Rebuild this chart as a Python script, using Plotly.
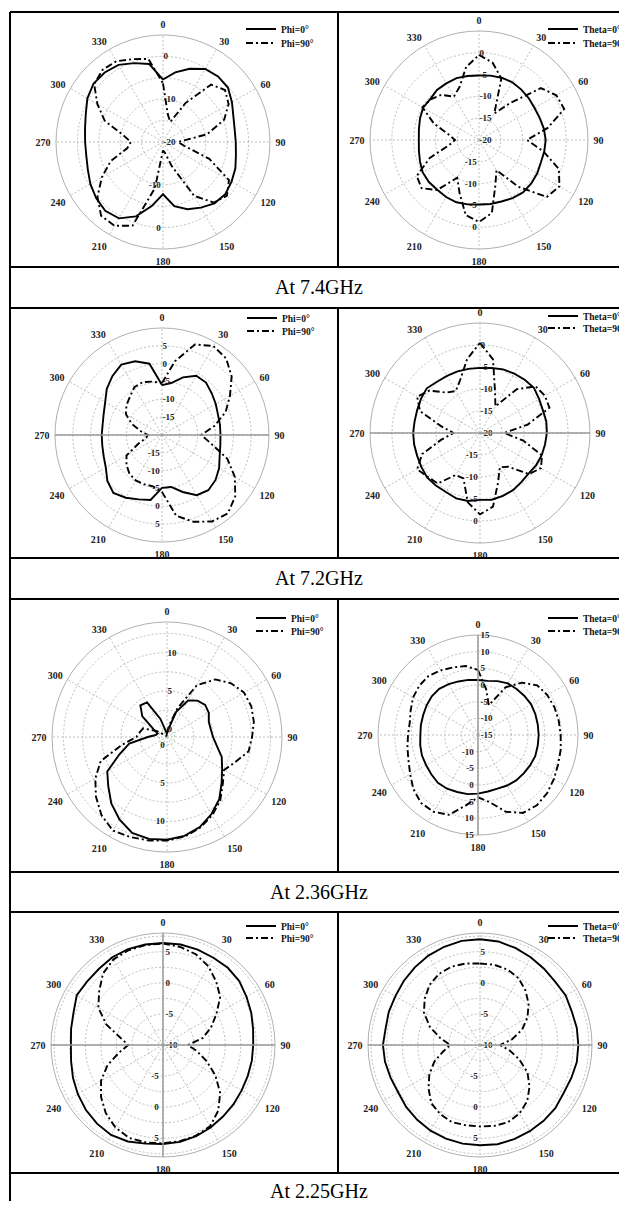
import plotly.graph_objects as go

# page is 627 x 1209; the html body keeps an 8 px margin, so the figure is 16 px smaller
PAGE_W, PAGE_H = 627, 1209
OFF = 8
W, H = PAGE_W - OFF, PAGE_H - 2 * OFF

# ---------------- data ----------------
THETA_DEG = list(range(0, 360, 10))
ANG_TICKS = list(range(0, 360, 30))
ANG_LABELS = [str(a) for a in ANG_TICKS]

# 7.4 GHz
p74_phi0 = [-5.4, -3.5, -1.8, -0.3, 0.0, -0.2, -1.4, -2.5, -3.0, -3.0, -2.7, -2.0,
            -1.5, -1.0, -1.3, -2.3, -3.3, -4.8, -7.8, -4.8, -1.5, 0.6, 1.0, 0.4,
            -0.4, -1.3, -1.8, -1.8, -1.5, -0.8, 0.4, 1.2, 1.2, 0.8, -0.4, -1.5]
p74_phi90 = [-6.3, -13.5, -15.0, -9.5, -2.5, -1.1, -2.3, -4.8, -9.5, -16.5, -15.0, -8.5,
             -2.2, -0.5, -1.5, -5.5, -14.0, -17.5, -18.0, -9.0, 0.8, 2.6, 2.5, 0.0,
             -3.5, -7.0, -11.5, -12.5, -10.5, -5.5, -2.3, 1.0, 2.0, 1.8, 0.6, -0.3]
p74_theta0 = [-5.2, -5.0, -4.8, -4.7, -4.9, -5.1, -5.3, -5.2, -4.9, -4.7, -4.8, -4.9,
              -4.6, -4.4, -4.3, -4.6, -5.0, -5.1, -5.2, -5.0, -4.8, -4.9, -5.1, -5.0,
              -5.1, -5.6, -6.0, -6.2, -6.0, -5.6, -5.2, -5.4, -5.0, -5.0, -4.9, -5.1]
p74_theta90 = [-0.5, -2.0, -5.0, -13.0, -9.0, -1.5, 0.5, 0.8, -4.0, -9.0, -5.0, -0.5,
               1.3, 0.3, -6.0, -12.0, -9.0, -3.0, -1.2, -2.5, -7.0, -10.0, -5.0, -2.8,
               -3.5, -8.0, -13.0, -14.5, -13.0, -9.0, -5.0, -5.5, -6.5, -8.5, -7.0, -3.0]

# 7.2 GHz
p72_phi0 = [-6.0, -5.2, -2.8, -0.8, -0.8, -1.8, -2.6, -3.3, -3.5, -3.6, -3.4, -2.8,
            -1.5, -0.4, 0.2, -0.5, -3.0, -5.2, -5.2, -1.5, -0.8, 0.3, 1.2, 0.0,
            -1.8, -2.6, -3.0, -3.1, -3.1, -2.6, -1.6, 0.2, 1.6, 2.8, 2.0, 0.3]
p72_phi90 = [-5.4, 1.0, 7.0, 8.8, 8.0, 5.5, 2.0, -1.0, -5.0, -9.0, -6.0, -0.5,
             3.6, 6.8, 8.7, 8.0, 5.9, 3.0, -4.0, -5.4, -5.3, -5.3, -5.8, -7.0,
             -8.5, -13.0, -15.5, -16.0, -14.0, -11.0, -8.3, -7.0, -6.0, -4.5, -4.2, -4.8]
p72_theta0 = [-5.2, -5.0, -4.6, -4.4, -4.2, -4.0, -4.5, -4.8, -4.7, -4.8, -5.0, -5.1,
              -5.3, -5.6, -5.4, -5.0, -4.8, -4.6, -4.8, -4.3, -4.2, -4.5, -4.4, -4.3,
              -4.6, -4.8, -4.8, -4.8, -4.9, -4.8, -4.5, -4.2, -4.8, -5.0, -5.1, -5.2]
p72_theta90 = [0.5, -3.0, -10.0, -13.0, -7.0, -3.5, -3.0, -3.2, -9.0, -14.5, -10.0, -5.0,
               -4.0, -5.5, -10.0, -11.0, -8.0, -3.0, -1.5, -4.0, -9.0, -9.0, -5.0, -4.5,
               -3.5, -6.0, -11.0, -14.0, -11.0, -5.5, -3.5, -5.0, -8.0, -9.0, -7.0, -3.0]

# 2.36 GHz
p236_phi0 = [-0.5, 0.0, 2.5, 4.5, 5.2, 5.5, 5.3, 4.8, 4.8, 5.0, 5.6, 6.6,
             7.3, 8.3, 9.6, 10.6, 11.5, 12.1, 12.4, 12.5, 12.3, 11.4, 10.3, 9.0,
             8.0, 5.6, 4.0, 1.5, 0.5, 0.3, 1.0, 3.2, 4.4, 4.2, 1.5, -0.3]
p236_phi90 = [-0.5, 0.5, 3.0, 6.8, 8.8, 9.9, 10.6, 10.7, 10.5, 10.1, 9.8, 8.5,
              7.6, 8.5, 9.8, 10.8, 11.6, 12.2, 12.5, 12.7, 12.9, 13.1, 12.3, 11.1,
              9.8, 8.2, 5.0, 3.0, 2.6, 2.3, 0.5, -0.5, -0.8, -0.8, -0.8, -0.7]
p236_theta0 = [1.5, 1.5, 2.2, 2.9, 3.0, 3.2, 3.4, 3.3, 3.2, 3.2, 3.2, 3.3,
               3.1, 2.9, 2.8, 2.5, 2.1, 2.2, 2.6, 3.0, 3.2, 3.6, 3.7, 3.3,
               3.0, 2.9, 2.6, 2.3, 2.4, 2.5, 2.8, 3.1, 3.1, 2.6, 2.1, 1.8]
p236_theta90 = [4.5, -1.0, -5.5, 1.5, 5.5, 8.2, 9.0, 9.4, 9.6, 9.8, 10.2, 10.6,
                11.3, 12.1, 12.5, 12.0, 9.5, 5.5, 3.7, 6.5, 10.5, 11.6, 11.6, 10.3,
                8.5, 7.2, 6.5, 6.0, 5.8, 6.5, 7.5, 8.0, 8.1, 7.4, 6.6, 6.0]

# 2.25 GHz
p225_phi0 = [6.4, 6.4, 6.3, 6.2, 6.2, 6.0, 5.5, 5.1, 4.7, 4.5, 4.5, 4.5,
             4.6, 4.8, 5.0, 5.3, 5.6, 5.8, 5.9, 6.1, 6.5, 6.7, 6.5, 6.2,
             5.8, 5.4, 5.0, 4.8, 5.0, 5.3, 6.0, 5.9, 6.0, 6.3, 6.4, 6.4]
p225_phi90 = [6.3, 6.0, 5.5, 4.6, 3.3, 2.0, -0.1, -1.8, -3.5, -6.0, -4.5, -2.6,
              -0.3, 2.0, 3.8, 5.1, 5.5, 5.7, 5.8, 5.9, 5.9, 5.3, 4.3, 3.0,
              1.5, -0.5, -2.8, -4.4, -3.0, -0.3, 2.0, 3.4, 5.0, 5.9, 6.2, 6.3]
p225_theta0 = [7.0, 6.9, 6.6, 6.3, 6.0, 5.8, 5.9, 5.7, 5.8, 5.8, 5.8, 5.6,
               5.5, 5.8, 5.9, 6.0, 6.1, 6.2, 6.1, 6.1, 6.0, 5.9, 5.7, 5.5,
               5.2, 5.3, 5.5, 5.6, 5.4, 5.6, 5.7, 6.0, 6.3, 6.6, 6.8, 7.0]
p225_theta90 = [3.1, 3.1, 2.9, 2.4, 1.4, 0.2, -1.2, -2.8, -4.8, -6.8, -5.2, -3.3,
                -1.2, 0.4, 1.8, 2.7, 3.2, 3.2, 3.1, 3.1, 3.2, 2.8, 2.2, 0.8,
                -0.6, -2.2, -4.0, -5.2, -3.5, -1.4, 0.4, 1.6, 2.6, 3.2, 3.4, 3.3]

captions = ["At 7.4GHz", "At 7.2GHz", "At 2.36GHz", "At 2.25GHz"]
PHI_NAMES = ["Phi=0°", "Phi=90°"]
THETA_NAMES = ["Theta=0°", "Theta=90°"]

# ---------------- panel layout (page pixel positions / styling) ----------------
panels = [
    dict(series=(p74_phi0, p74_phi90), names=PHI_NAMES, cx=163, cy=142, R=107, rng=[-20, 5],
         grid=[-20, -15, -10, -5, 0, 5], up=[-20, -10, 0], down=[-10, 0], hline=False, vline=False,
         leg=(247, 29, 43)),
    dict(series=(p74_theta0, p74_theta90), names=THETA_NAMES, cx=479, cy=140, R=109, rng=[-20, 5],
         grid=[-20, -15, -10, -5, 0, 5], up=[-20, -15, -10, -5, 0], down=[-15, -10, -5, 0],
         hline=False, vline=False, leg=(549, 29, 43)),
    dict(series=(p72_phi0, p72_phi90), names=PHI_NAMES, cx=162, cy=435, R=107, rng=[-20, 10],
         grid=[-20, -15, -10, -5, 0, 5, 10], up=[-15, -10, -5, 0, 5], down=[-15, -10, -5, 0, 5],
         hline=True, vline=False, leg=(248, 318, 331)),
    dict(series=(p72_theta0, p72_theta90), names=THETA_NAMES, cx=480, cy=433, R=110, rng=[-20, 5],
         grid=[-20, -15, -10, -5, 0, 5], up=[-20, -15, -10, -5, 0], down=[-15, -10, -5, 0],
         hline=True, vline=False, leg=(549, 316, 328)),
    dict(series=(p236_phi0, p236_phi90), names=PHI_NAMES, cx=167, cy=737, R=115, rng=[-1, 14],
         grid=[0, 2.5, 5, 7.5, 10, 12.5], up=[0, 5, 10], down=[0, 5, 10],
         hline=False, vline=False, leg=(257, 618, 631)),
    dict(series=(p236_theta0, p236_theta90), names=THETA_NAMES, cx=478, cy=735, R=100, rng=[-15, 15],
         grid=[-15, -10, -5, 0, 5, 10, 15], up=[-15, -10, -5, 0, 5, 10, 15], down=[-10, -5, 0, 5, 10, 15],
         hline=False, vline=True, leg=(549, 618, 631)),
    dict(series=(p225_phi0, p225_phi90), names=PHI_NAMES, cx=163, cy=1045, R=112, rng=[-10, 8],
         grid=[-10, -7.5, -5, -2.5, 0, 2.5, 5, 7.5], up=[-10, -5, 0, 5], down=[-5, 0, 5],
         hline=True, vline=True, leg=(247, 926, 938)),
    dict(series=(p225_theta0, p225_theta90), names=THETA_NAMES, cx=480, cy=1045, R=112, rng=[-10, 8],
         grid=[-10, -7.5, -5, -2.5, 0, 2.5, 5, 7.5], up=[-10, -5, 0, 5], down=[-5, 0, 5],
         hline=True, vline=False, leg=(549, 926, 938)),
]

SERIF = "Liberation Serif"
ANG_FONT = dict(family=SERIF, size=10, color="#222", weight="bold")
RAD_FONT = dict(family=SERIF, size=9, color="#222", weight="bold")
LEG_FONT = dict(family=SERIF, size=9.5, color="#111", weight="bold")
GRID_COLOR = "#b8c2b8"
AXLINE_COLOR = "#9a9a9a"
LINE_STYLES = [dict(color="black", width=1.9),
               dict(color="black", width=1.9, dash="7px,3px,2px,3px")]


def fx(px):
    return (px - OFF) / W


def fy(py):
    return 1 - (py - OFF) / H


def dom(cx, cy, R):
    return dict(x=[fx(cx - R), fx(cx + R)], y=[fy(cy + R), fy(cy - R)])


def fmt(v):
    return str(int(v)) if float(v).is_integer() else str(v)


fig = go.Figure()
layout = {}
counters = {"polar": 0, "legend": 0}


def next_id(kind):
    counters[kind] += 1
    n = counters[kind]
    return kind if n == 1 else f"{kind}{n}"


def overlay_polar(d, rng, angle, vals, show_line, tickangle):
    pid = next_id("polar")
    layout[pid] = dict(
        domain=d, bgcolor="rgba(0,0,0,0)",
        angularaxis=dict(visible=False, rotation=90, direction="clockwise"),
        radialaxis=dict(range=rng, angle=angle, tickmode="array", tickvals=vals,
                        ticktext=[fmt(v) for v in vals], showticklabels=bool(vals),
                        tickangle=tickangle, tickfont=RAD_FONT, ticks="",
                        showgrid=False, showline=show_line, linecolor=AXLINE_COLOR, linewidth=1.5),
    )
    fig.add_trace(go.Scatterpolar(r=[], theta=[], subplot=pid, showlegend=False, hoverinfo="skip"))


for p in panels:
    d = dom(p["cx"], p["cy"], p["R"])
    main = next_id("polar")
    layout[main] = dict(
        domain=d, bgcolor="rgba(0,0,0,0)",
        angularaxis=dict(rotation=90, direction="clockwise", tickmode="array",
                         tickvals=ANG_TICKS, ticktext=ANG_LABELS, tickfont=ANG_FONT,
                         ticks="outside", ticklen=3, tickcolor="rgba(0,0,0,0)",
                         showgrid=True, gridcolor=GRID_COLOR, griddash="2px,2px",
                         gridwidth=1, showline=True, linecolor="#b0b0b0", linewidth=1),
        radialaxis=dict(range=p["rng"], angle=90, tickmode="array", tickvals=p["grid"],
                        showticklabels=False, ticks="", showgrid=True, gridcolor=GRID_COLOR,
                        griddash="2px,2px", gridwidth=1, showline=False, layer="below traces"),
    )
    for vals, nm, st, ry in zip(p["series"], p["names"], LINE_STYLES, p["leg"][1:]):
        lg = next_id("legend")
        fig.add_trace(go.Scatterpolar(r=vals + vals[:1], theta=THETA_DEG + [360], mode="lines",
                                      line=st, name=nm, subplot=main, legend=lg,
                                      showlegend=True, hoverinfo="skip"))
        layout[lg] = dict(x=fx(p["leg"][0] - 6), y=fy(ry), xanchor="left", yanchor="middle",
                          bgcolor="rgba(0,0,0,0)", borderwidth=0, font=LEG_FONT, itemwidth=30)
    # upward and downward radial labels
    overlay_polar(d, p["rng"], 90, p["up"], p["vline"], 90)
    overlay_polar(d, p["rng"], 270, p["down"], p["vline"], -90)
    if p["hline"]:
        for ang in (0, 180):
            overlay_polar(d, p["rng"], ang, [], True, 0)

# ---------------- table lines ----------------
def px_line(x0, y0, x1, y1):
    return dict(type="line", xref="paper", yref="paper", x0=fx(x0), x1=fx(x1),
                y0=fy(y0), y1=fy(y1), line=dict(color="black", width=2))


shapes = [px_line(10, 12, 10, PAGE_H)]
for yy in (12, 267, 308, 558, 599, 872, 912, 1173):
    shapes.append(px_line(10, yy, PAGE_W, yy))
for y0, y1 in ((12, 267), (308, 558), (599, 872), (912, 1173)):
    shapes.append(px_line(338, y0, 338, y1))

annotations = []
for txt, yy in zip(captions, (287, 578, 892, 1191)):
    annotations.append(dict(text=txt, xref="paper", yref="paper", x=fx(319), y=fy(yy),
                            xanchor="center", yanchor="middle", showarrow=False,
                            font=dict(family=SERIF, size=20, color="black")))

fig.update_layout(width=W, height=H, autosize=False,
                  margin=dict(l=0, r=0, t=0, b=0, autoexpand=False),
                  paper_bgcolor="white", plot_bgcolor="white", showlegend=True,
                  shapes=shapes, annotations=annotations, **layout)

fig.write_html("out.html")
